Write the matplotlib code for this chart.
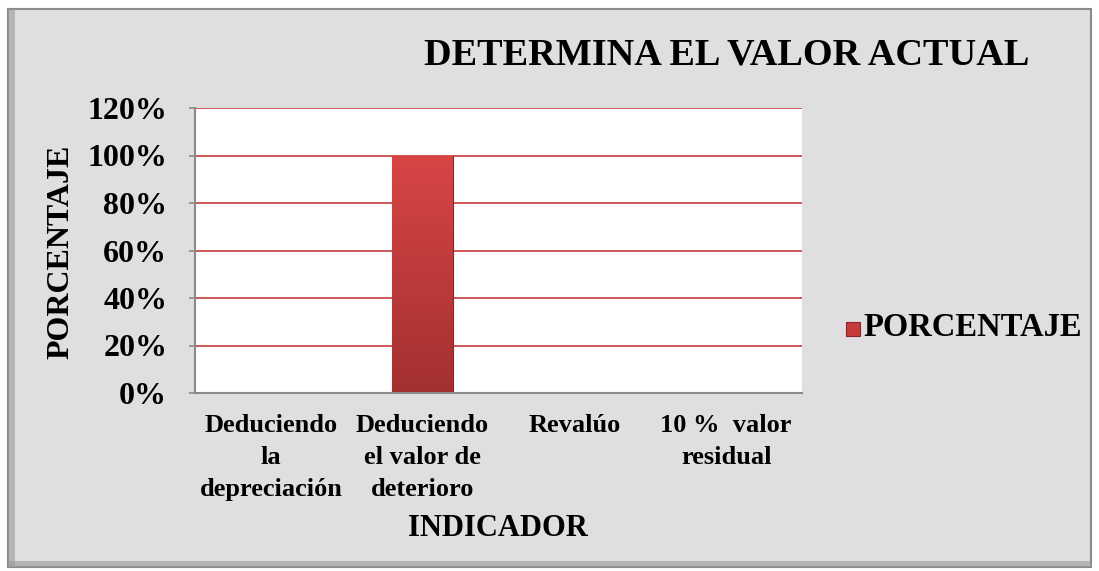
import matplotlib
matplotlib.use("Agg")
import matplotlib.pyplot as plt
import numpy as np
from matplotlib.patches import Rectangle
from matplotlib.ticker import FixedLocator

categories = ["Deduciendo\nla\ndepreciación", "Deduciendo\nel valor de\ndeterioro",
              "Revalúo", "10 %  valor\nresidual"]
values = [0.0, 1.0, 0.0, 0.0]
yticks = [0, 0.2, 0.4, 0.6, 0.8, 1.0, 1.2]
ytick_labels = ["0%", "20%", "40%", "60%", "80%", "100%", "120%"]
series_name = "PORCENTAJE"
title = "DETERMINA EL VALOR ACTUAL"
xlabel = "INDICADOR"
ylabel = "PORCENTAJE"

W, H = 1099, 571
plt.rcParams['font.family'] = ['Liberation Serif', 'DejaVu Serif']
fig = plt.figure(figsize=(W / 100, H / 100), dpi=100)
fig.patch.set_facecolor("white")

# marble-like background panel
bg = Rectangle((8 / W, 1 - 567 / H), (1091 - 8) / W, (567 - 9) / H, transform=fig.transFigure,
               facecolor="#dfdfe2", edgecolor="#8a8a8a", linewidth=1.5, zorder=-10)
fig.patches.append(bg)
# shaded edges of the panel
for (x0, y0, w, h) in [(8, 9, 7, 558), (8, 561, 1083, 6)]:
    fig.patches.append(Rectangle((x0 / W, 1 - (y0 + h) / H), w / W, h / H,
                                 transform=fig.transFigure, facecolor="#9a9a9c",
                                 edgecolor="none", alpha=0.6, zorder=-9))

ax = fig.add_axes([195 / W, 1 - 393 / H, (802 - 195) / W, (393 - 108) / H])
ax.set_zorder(1)
ax.set_facecolor("white")
x = np.arange(len(categories))
bars = ax.bar(x, values, width=0.4, color="#c63b3b", edgecolor="#8e2424", linewidth=0.8, zorder=3)

# gradient on the bar
cmap = matplotlib.colors.LinearSegmentedColormap.from_list("r", ["#a33030", "#d84545"])
for b in bars:
    h = b.get_height()
    if h <= 0:
        continue
    x0 = b.get_x(); w = b.get_width()
    grad = np.linspace(0, 1, 100).reshape(-1, 1)
    im = ax.imshow(grad, extent=[x0, x0 + w, 0, h], origin="lower", cmap=cmap,
                   aspect="auto", zorder=4)
    im.set_clip_path(b)

ax.set_xlim(-0.5, len(categories) - 0.5)
ax.set_ylim(0, 1.2)
ax.yaxis.set_major_locator(FixedLocator(yticks))
ax.set_yticklabels(ytick_labels, fontsize=23, fontweight="bold")
ax.set_xticks(x)
ax.set_xticklabels(categories, fontsize=19, fontweight="bold", linespacing=1.5)
ax.tick_params(axis="x", length=0, pad=15)
ax.tick_params(axis="y", length=4, width=1.2, color="#8a8a8a", pad=16)
ax.yaxis.grid(True, color="#c84a4a", linewidth=1.3, zorder=1)
ax.set_axisbelow(True)
for s in ["top", "right"]:
    ax.spines[s].set_visible(False)
for s in ["left", "bottom"]:
    ax.spines[s].set_color("#8a8a8a")
    ax.spines[s].set_linewidth(1.5)
    ax.spines[s].set_zorder(5)

fig.text(727 / W, 1 - 55 / H, title, ha="center", va="center", fontsize=27.5, fontweight="bold")
fig.text(498 / W, 1 - 528 / H, xlabel, ha="center", va="center", fontsize=22, fontweight="bold")
fig.text(61 / W, 1 - 252 / H, ylabel, ha="center", va="center", rotation=90, fontsize=23, fontweight="bold")

# legend
leg_sq = Rectangle((846 / W, 1 - 336 / H), 14 / W, 14 / H, transform=fig.transFigure,
                   facecolor="#c63b3b", edgecolor="#8e2424", linewidth=0.8, zorder=2)
fig.patches.append(leg_sq)
fig.text(863 / W, 1 - 328 / H, series_name, ha="left", va="center", fontsize=23.5, fontweight="bold")

fig.savefig("out.png", dpi=100)
